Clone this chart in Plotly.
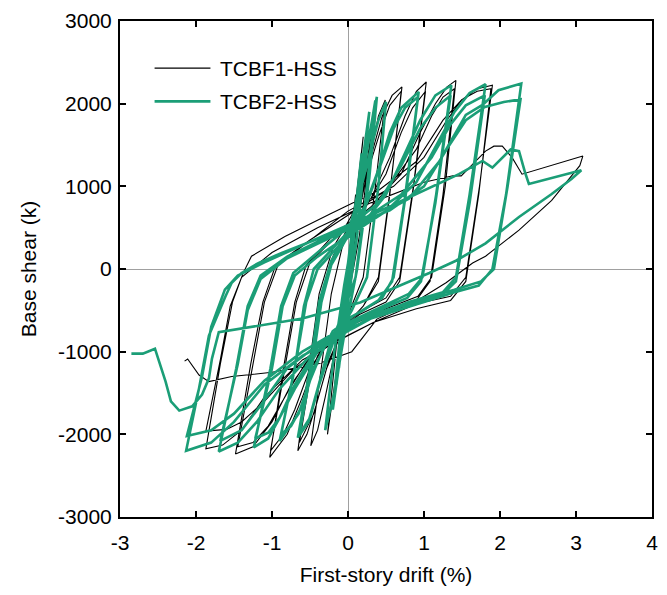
import plotly.graph_objects as go

# ---------------- data ----------------
tcbf1_points = [
    (0.0, 0), (0.1, 900), (0.0, 0), (-0.08, -800), (0.0, 0), (0.2, 1600), (0.05, 200),
    (-0.15, -1400), (0.0, -200), (0.35, 1900), (0.15, 400), (-0.05, -600), (-0.27, -2000),
    (-0.15, -900), (-0.02, -100), (0.15, 700), (0.3, 1400), (0.4, 1850), (0.49, 2044),
    (0.36, 1000), (0.2, -100), (0.02, -500), (-0.15, -900), (-0.3, -1550), (-0.4, -1950), (-0.49, -2139),
    (-0.34, -1100), (-0.22, -300), (-0.08, 250), (0.1, 700), (0.3, 1350), (0.45, 1850), (0.58, 2100), (0.71, 2203),
    (0.56, 1000), (0.4, -100), (0.2, -450), (-0.05, -700), (-0.25, -1100), (-0.42, -1650), (-0.54, -2000), (-0.66, -2199),
    (-0.5, -1100), (-0.38, -300), (-0.2, 250), (0.05, 650), (0.25, 1150), (0.42, 1650), (0.55, 1980), (0.70, 2150),
    (0.55, 900), (0.4, -150), (0.2, -450), (-0.05, -700), (-0.28, -1200), (-0.45, -1750), (-0.64, -2100),
    (-0.47, -1150), (-0.35, -400), (-0.2, 150), (0.0, 500), (0.3, 850), (0.55, 1350), (0.75, 1850), (0.9, 2150), (1.03, 2262),
    (0.86, 1000), (0.68, -100), (0.5, -350), (0.2, -500), (-0.1, -700), (-0.4, -1050), (-0.6, -1550), (-0.8, -2000), (-1.03, -2279),
    (-0.84, -1150), (-0.7, -400), (-0.55, 50), (-0.2, 400), (0.2, 700), (0.5, 1150), (0.7, 1650), (0.85, 1950), (1.02, 2150),
    (0.85, 900), (0.68, -150), (0.5, -400), (0.15, -550), (-0.2, -800), (-0.5, -1200), (-0.7, -1700), (-0.85, -2000), (-1.02, -2200),
    (-0.82, -1150), (-0.68, -400), (-0.5, 80), (-0.1, 450), (0.3, 750), (0.7, 1150), (0.95, 1650), (1.15, 2000), (1.3, 2200), (1.42, 2282),
    (1.28, 1000), (1.1, -100), (0.92, -330), (0.5, -480), (0.0, -700), (-0.4, -950), (-0.75, -1400), (-1.0, -1850), (-1.25, -2150), (-1.48, -2237),
    (-1.28, -1150), (-1.12, -400), (-0.95, 50), (-0.5, 350), (0.0, 650), (0.5, 950), (0.9, 1450), (1.1, 1850), (1.25, 2080), (1.40, 2180),
    (1.25, 900), (1.08, -150), (0.9, -380), (0.4, -550), (-0.1, -780), (-0.5, -1050), (-0.8, -1500), (-1.05, -1900), (-1.25, -2100), (-1.45, -2150),
    (-1.25, -1150), (-1.1, -400), (-0.92, 50), (-0.5, 350), (0.0, 700), (0.6, 1000), (1.0, 1350), (1.3, 1800), (1.5, 2050), (1.7, 2180), (1.90, 2223),
    (1.73, 1000), (1.55, -100), (1.35, -330), (0.9, -420), (0.34, -645), (0.0, -800), (-0.6, -1100), (-1.1, -1550), (-1.4, -1950), (-1.65, -2130), (-1.87, -2175),
    (-1.68, -1150), (-1.52, -400), (-1.38, -50), (-1.27, 155), (-0.83, 394), (-0.23, 669), (0.4, 950), (0.9, 1300), (1.25, 1800), (1.5, 2050), (1.7, 2150), (1.88, 2180),
    (1.72, 900), (1.55, -150), (1.35, -380), (0.9, -480), (0.34, -645), (-0.2, -900), (-0.7, -1200), (-1.1, -1600), (-1.4, -1850), (-1.6, -1940), (-1.87, -1960),
    (-1.68, -1100), (-1.55, -450), (-1.4, -100), (-1.0, 200), (-0.4, 500), (0.3, 800), (1.0, 1050), (1.38, 1127), (1.49, 1127), (1.81, 1426),
    (1.92, 1486), (2.03, 1486), (2.16, 1347), (2.29, 1147), (3.09, 1366),
    (3.05, 1250), (2.68, 830), (2.25, 470), (1.81, 155), (1.64, 72), (1.29, -167), (0.94, -367), (0.38, -606), (0.05, -1000),
    (-0.4, -1150), (-1.0, -1250), (-1.53, -1300), (-1.83, -1362), (-1.96, -1283), (-2.11, -1088), (-2.15, -1115),
]

tcbf2_points = [
    (0.0, 0), (0.10, 800), (0.0, -50), (-0.06, -600), (0.03, 150), (0.18, 1400), (0.05, 100), (-0.12, -1200),
    (0.0, -100), (0.1, 700), (0.28, 1900), (0.12, 400), (0.0, -400), (-0.2, -1700), (-0.05, -300), (0.1, 800), (0.38, 2083),
    (0.28, 1100), (0.12, 0), (-0.05, -800), (-0.18, -1500), (-0.3, -1950),
    (-0.18, -1000), (-0.05, -200), (0.1, 600), (0.3, 1700), (0.36, 2040),
    (0.24, 900), (0.1, -100), (-0.05, -500), (-0.25, -950), (-0.4, -1450), (-0.52, -1850), (-0.66, -2040),
    (-0.5, -1200), (-0.38, -400), (-0.22, 100), (0.0, 450), (0.15, 900), (0.3, 1450), (0.4, 1800), (0.5, 2023),
    (0.4, 1000), (0.25, -100), (0.05, -500), (-0.2, -900), (-0.38, -1400), (-0.5, -1800), (-0.64, -2000),
    (-0.46, -1100), (-0.35, -400), (-0.22, 50), (0.0, 400), (0.2, 700), (0.4, 1200), (0.55, 1650), (0.7, 1950), (0.93, 2143),
    (0.76, 900), (0.6, -100), (0.45, -350), (0.2, -500), (0.0, -600), (-0.3, -900), (-0.5, -1350), (-0.65, -1750), (-0.90, -2080),
    (-0.7, -1200), (-0.58, -450), (-0.45, 0), (-0.2, 250), (0.0, 450), (0.25, 800), (0.45, 1300), (0.6, 1700), (0.75, 1950), (0.92, 2080),
    (0.74, 800), (0.58, -150), (0.4, -380), (0.1, -550), (-0.2, -750), (-0.45, -1200), (-0.6, -1650), (-0.75, -1900), (-0.88, -2000),
    (-0.68, -1100), (-0.55, -400), (-0.4, 0), (-0.1, 300), (0.2, 550), (0.5, 900), (0.75, 1400), (0.95, 1800), (1.15, 2100), (1.36, 2223),
    (1.16, 900), (0.98, -100), (0.8, -300), (0.4, -480), (0.0, -650), (-0.4, -950), (-0.7, -1400), (-0.9, -1800), (-1.05, -2050), (-1.24, -2159),
    (-1.02, -1200), (-0.88, -450), (-0.72, -50), (-0.4, 200), (0.0, 500), (0.4, 800), (0.7, 1250), (0.95, 1700), (1.15, 1950), (1.35, 2100),
    (1.15, 800), (0.96, -150), (0.78, -350), (0.35, -520), (0.0, -700), (-0.4, -1000), (-0.7, -1450), (-0.9, -1800), (-1.05, -1980), (-1.22, -2050),
    (-1.0, -1200), (-0.86, -450), (-0.7, -80), (-0.4, 150), (0.0, 400), (0.5, 700), (0.9, 1050), (1.2, 1550), (1.4, 1900), (1.6, 2130), (1.81, 2235),
    (1.6, 900), (1.42, -100), (1.25, -280), (0.8, -400), (0.3, -580), (0.0, -750), (-0.5, -1050), (-0.9, -1450), (-1.2, -1850), (-1.45, -2100), (-1.70, -2207),
    (-1.47, -1200), (-1.32, -450), (-1.15, -80), (-0.8, 150), (-0.3, 380), (0.2, 600), (0.7, 900), (1.1, 1350), (1.35, 1750), (1.55, 1980), (1.80, 2100),
    (1.6, 800), (1.42, -150), (1.22, -330), (0.7, -450), (0.3, -600), (-0.3, -850), (-0.8, -1200), (-1.15, -1650), (-1.4, -1950), (-1.68, -2080),
    (-1.45, -1150), (-1.32, -500), (-1.15, -120), (-0.8, 130), (-0.3, 350), (0.3, 600), (0.8, 850), (1.2, 1300), (1.42, 1665), (1.55, 1865), (1.77, 1984), (1.98, 2163), (2.28, 2243),
    (2.08, 900), (1.9, 0), (1.72, -200), (1.4, -280), (1.0, -400), (0.3, -600), (0.0, -750), (-0.6, -1050), (-1.1, -1400), (-1.5, -1850), (-1.8, -2100), (-2.13, -2199),
    (-1.96, -1442), (-1.83, -805), (-1.61, -326), (-1.53, -167), (-1.40, -48), (-1.18, 72), (-0.88, 191), (-0.23, 430), (0.55, 709), (1.0, 1000), (1.3, 1450), (1.55, 1800), (1.8, 1960), (2.05, 2020), (2.27, 2052),
    (2.1, 1000), (1.92, 0), (1.75, -150), (1.4, -250), (0.9, -380), (0.3, -560), (0.0, -680), (-0.6, -1000), (-1.1, -1350), (-1.5, -1750), (-1.8, -1950), (-2.12, -2020),
    (-1.92, -1300), (-1.8, -700), (-1.62, -250), (-1.45, -80), (-1.1, 80), (-0.5, 330), (0.3, 650), (1.0, 950), (1.46, 1147), (1.77, 1307), (1.90, 1227),
    (2.14, 1446), (2.25, 1426), (2.33, 1167), (2.38, 1028), (3.07, 1195),
    (2.94, 1088), (2.68, 908), (2.25, 630), (1.81, 310), (1.42, 100), (1.07, -48), (0.16, -406), (-0.6, -600), (-1.3, -700), (-1.70, -765),
    (-1.79, -1084), (-1.83, -1323), (-1.92, -1518), (-2.05, -1661), (-2.22, -1713), (-2.33, -1600), (-2.40, -1362), (-2.54, -964),
    (-2.70, -1024), (-2.85, -1024),
]

series_names = ["TCBF1-HSS", "TCBF2-HSS"]
series_colors = ["#000000", "#1b9e77"]
series_widths = [1.1, 2.6]
x_ticks = [-3, -2, -1, 0, 1, 2, 3, 4]
y_ticks = [-3000, -2000, -1000, 0, 1000, 2000, 3000]

# ---------------- figure ----------------
FONT = "Liberation Sans, Arial, sans-serif"
fig = go.Figure()
for pts, name, col, w in zip([tcbf1_points, tcbf2_points], series_names, series_colors, series_widths):
    xs = [p[0] for p in pts]
    ys = [p[1] for p in pts]
    fig.add_trace(go.Scatter(x=xs, y=ys, mode="lines", name=name,
                             line=dict(color=col, width=w), showlegend=False))

# manual legend (line sample + label), placed like the reference
leg_y = [0.905, 0.838]
for name, col, w, yy in zip(series_names, series_colors, series_widths, leg_y):
    fig.add_shape(type="line", xref="paper", yref="paper",
                  x0=0.065, x1=0.17, y0=yy, y1=yy,
                  line=dict(color=col, width=w))
    fig.add_annotation(xref="paper", yref="paper", x=0.184, y=yy, text=name,
                       showarrow=False, xanchor="left", yanchor="middle",
                       font=dict(family=FONT, size=21, color="black"))

axis_common = dict(showgrid=False, showline=True, linecolor="black", linewidth=2,
                   mirror="allticks", ticks="inside", ticklen=6, tickwidth=2,
                   tickcolor="black", zeroline=True, zerolinecolor="#a0a0a0",
                   zerolinewidth=1, tickfont=dict(family=FONT, size=21, color="black"))

fig.update_layout(
    width=667, height=595,
    margin=dict(l=120, r=9, t=15, b=78),
    paper_bgcolor="white", plot_bgcolor="white",
    font=dict(family=FONT, size=21, color="black"),
    xaxis=dict(range=[-3, 4], tickvals=x_ticks, ticktext=[str(v) for v in x_ticks],
               ticklabelstandoff=6,
               title=dict(text="First-story drift (%)", standoff=14,
                          font=dict(family=FONT, size=21)), **axis_common),
    yaxis=dict(range=[-3000, 3000], tickvals=y_ticks, ticktext=[str(v) for v in y_ticks],
               ticklabelstandoff=2,
               title=dict(text="Base shear (k)", standoff=16,
                          font=dict(family=FONT, size=21)), **axis_common),
)

fig.write_html("out.html")
